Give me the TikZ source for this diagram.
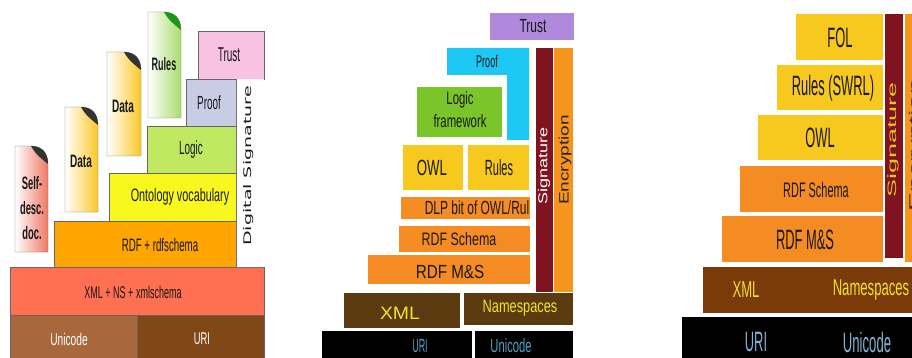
\documentclass[tikz,border=0pt]{standalone}
\usepackage{fontspec}
\setmainfont{Liberation Sans}
\newfontfamily\dvs{DejaVu Sans}
\definecolor{pAuni}{RGB}{168,104,60}
\definecolor{pAuri}{RGB}{128,72,22}
\definecolor{pAxml}{RGB}{255,112,82}
\definecolor{pArdf}{RGB}{255,165,0}
\definecolor{pAont}{RGB}{248,248,30}
\definecolor{pAlog}{RGB}{192,232,96}
\definecolor{pAprf}{RGB}{200,204,228}
\definecolor{pAtru}{RGB}{248,194,226}
\definecolor{pBtru}{RGB}{176,136,220}
\definecolor{pBprf}{RGB}{30,200,245}
\definecolor{pBlf}{RGB}{122,197,42}
\definecolor{gold}{RGB}{247,200,30}
\definecolor{orng}{RGB}{245,140,35}
\definecolor{pBbrn}{RGB}{92,58,16}
\definecolor{sigred}{RGB}{127,20,32}
\definecolor{encor}{RGB}{247,148,29}
\definecolor{ltblue}{RGB}{75,163,200}
\definecolor{pCbrn}{RGB}{122,58,10}
\definecolor{pCblue}{RGB}{130,180,215}
\definecolor{yeltxt}{RGB}{240,228,40}
\definecolor{sigtxt}{RGB}{232,192,32}
\definecolor{doctxt}{RGB}{25,25,25}
\definecolor{docred}{RGB}{240,120,100}
\definecolor{docyel}{RGB}{250,200,40}
\definecolor{docgrn}{RGB}{170,220,110}
\definecolor{curlgrn}{RGB}{30,150,30}
\newcommand\boxlbl[3]{\scalebox{#2}[1]{\fontsize{#1}{#1}\selectfont #3}}
\newcommand\bx[6]{\node[bxs,#6,minimum width={(#4-#2)*1pt},minimum height={(#5-#3)*1pt}] (#1) at (#2,-#3) {};}
\newcommand\docpage[6]{%
  \shadedraw[left color=white, middle color=white, right color=#5, draw=black!55, line width=0.4pt]
    (#1,-#2) -- (#1,-#4) -- (#3,-#4) -- (#3,-#2-18) .. controls (#3,-#2-6) and (#3-7,-#2) .. (#3-17,-#2) -- cycle;
  \fill[#6] (#3-17,-#2) .. controls (#3-7,-#2) and (#3,-#2-6) .. (#3,-#2-18)
    .. controls (#3-6,-#2-13) and (#3-12,-#2-9) .. (#3-17,-#2) -- cycle;}
\tikzset{
  bxs/.style={inner sep=0, outer sep=0, anchor=north west, draw=none},
  p1/.style={draw=black!60, line width=0.5pt},
  tl/.style={inner sep=0, outer sep=0, text=doctxt}
}
\begin{document}
\begin{tikzpicture}[x=1pt,y=1pt]
\useasboundingbox (0,0) rectangle (912,-358);
\clip (0,0) rectangle (912,-358);
\fill[white] (0,0) rectangle (912,-358);
% ---------------- panel 1 ----------------
\bx{aUni}{10.7}{315}{137}{358}{p1,fill=pAuni}
\bx{aUri}{137}{315}{264}{358}{p1,fill=pAuri}
\bx{aXml}{10.7}{267}{264}{315}{p1,fill=pAxml}
\bx{aRdf}{54}{221}{236}{267}{p1,fill=pArdf}
\bx{aOnt}{109}{173}{236}{221}{p1,fill=pAont}
\bx{aLog}{147}{126}{236}{173}{p1,fill=pAlog}
\bx{aPrf}{186}{79}{236}{126}{p1,fill=pAprf}
\bx{aTru}{198}{31}{264}{79}{p1,fill=pAtru}
\bx{aSig}{236}{79}{264}{267}{fill=white}
\draw[black!55, line width=0.6pt] (aSig.north west) -- (aSig.south west) -- (aSig.south east);
\docpage{15}{146}{48}{252}{docred}{black!80}
\docpage{65}{107}{98}{212}{docyel}{black!80}
\docpage{107}{52}{141}{156}{docyel}{black!80}
\docpage{148}{12}{181}{118}{docgrn}{curlgrn}
\node[tl,text=white] (tUni1) at (69,-339) {\boxlbl{17}{.6}{Unicode}};
\node[tl,text=white] (tUri1) at (202,-339) {\boxlbl{17}{.55}{URI}};
\node[tl] (tXml1) at (133,-292) {\boxlbl{17}{.53}{XML + NS + xmlschema}};
\node[tl] (tRdf1) at (160,-245) {\boxlbl{18}{.54}{RDF + rdfschema}};
\node[tl] (tOnt1) at (180,-197) {\boxlbl{18}{.6}{Ontology vocabulary}};
\node[tl] (tLog1) at (191,-150) {\boxlbl{19}{.52}{Logic}};
\node[tl] (tPrf1) at (209,-103) {\boxlbl{19}{.52}{Proof}};
\node[tl] (tTru1) at (229,-55) {\boxlbl{20}{.5}{Trust}};
\node[tl,rotate=90] (tSig1) at (249,-166) {\scalebox{1}[.55]{\dvs\fontsize{19}{19}\selectfont Digital Signature}};
\node[tl] (tRul1) at (164,-64) {\boxlbl{18}{.5}{\bfseries Rules}};
\node[tl] (tDat2) at (123,-106) {\boxlbl{18}{.56}{\bfseries Data}};
\node[tl] (tDat1) at (81,-161) {\boxlbl{18}{.56}{\bfseries Data}};
\node[tl,align=center,font=\fontsize{18}{25}\selectfont\bfseries] (tSelf) at (32,-208)
  {\scalebox{.52}[1]{Self-}\\\scalebox{.52}[1]{desc.}\\\scalebox{.52}[1]{doc.}};
% ---------------- panel 2 ----------------
\bx{bUri}{322}{331}{472}{358}{fill=black}
\bx{bUni}{475}{331}{573}{358}{fill=black}
\bx{bXml}{344}{293}{460}{328}{fill=pBbrn}
\bx{bNs}{464}{293}{573}{325}{fill=pBbrn}
\bx{bRms}{368}{255}{530}{284}{fill=orng}
\bx{bRsc}{399}{226}{530}{252}{fill=orng}
\bx{bDlp}{401}{197}{530}{219}{fill=orng}
\bx{bOwl}{403}{145}{463}{190}{fill=gold}
\bx{bRul}{468}{145}{529}{190}{fill=gold}
\bx{bLf}{417}{87}{502}{137}{fill=pBlf}
\fill[pBprf] (447,-48) -- (529,-48) -- (529,-140) -- (507,-140) -- (507,-75) -- (447,-75) -- cycle;
\bx{bTru}{490}{13}{574}{40}{fill=pBtru}
\bx{bSig}{536}{48}{553}{292}{fill=sigred}
\bx{bEnc}{554}{48}{573}{292}{fill=encor}
\node[tl] (tTru2) at (533,-26) {\boxlbl{19}{.63}{Trust}};
\node[tl] (tPrf2) at (487,-61) {\boxlbl{17}{.53}{Proof}};
\node[tl,align=center,font=\fontsize{18}{23}\selectfont] (tLf2) at (460,-110)
  {\scalebox{.63}[1]{Logic}\\\scalebox{.63}[1]{framework}};
\node[tl] (tOwl2) at (432,-168) {\boxlbl{22}{.6}{OWL}};
\node[tl] (tRul2) at (499,-168) {\boxlbl{22}{.5}{Rules}};
\node[tl] (tDlp2) at (477,-208) {\boxlbl{19}{.63}{DLP bit of OWL/Rul}};
\node[tl] (tRsc2) at (459,-239) {\boxlbl{18}{.69}{RDF Schema}};
\node[tl] (tRms2) at (450,-272) {\boxlbl{19}{.8}{RDF M\&S}};
\node[tl,text=yeltxt] (tXml2) at (400,-313) {\boxlbl{18}{1.08}{XML}};
\node[tl,text=yeltxt] (tNs2) at (520,-308) {\boxlbl{18}{.71}{Namespaces}};
\node[tl,text=ltblue] (tUri2) at (420,-346) {\boxlbl{19}{.47}{URI}};
\node[tl,text=ltblue] (tUni2) at (511,-346) {\boxlbl{19}{.59}{Unicode}};
\node[tl,rotate=90,text=white] (tSig2) at (544,-166) {\scalebox{1}[.72]{\fontsize{18}{18}\selectfont Signature}};
\node[tl,rotate=90,text=black!85] (tEnc2) at (565,-160) {\scalebox{1}[.72]{\fontsize{19}{19}\selectfont Encryption}};
% ---------------- panel 3 ----------------
\bx{cBlk}{682}{317}{916}{358}{fill=black}
\bx{cBrn}{703}{267}{916}{313}{fill=pCbrn}
\bx{cRms}{722}{216}{883}{262}{fill=orng}
\bx{cRsc}{740}{166}{883}{212}{fill=orng}
\bx{cOwl}{758}{115}{883}{160}{fill=gold}
\bx{cSwr}{777}{65}{883}{110}{fill=gold}
\bx{cFol}{796}{14}{883}{60}{fill=gold}
\bx{cSig}{885}{14}{903}{258}{fill=sigred}
\bx{cEnc}{905}{14}{916}{262}{fill=encor}
\node[tl] (tFol3) at (840,-38) {\boxlbl{28}{.46}{FOL}};
\node[tl] (tSwr3) at (833,-88) {\boxlbl{28}{.46}{Rules (SWRL)}};
\node[tl] (tOwl3) at (820,-138) {\boxlbl{28}{.46}{OWL}};
\node[tl] (tRsc3) at (816,-190) {\boxlbl{21}{.52}{RDF Schema}};
\node[tl] (tRms3) at (805,-240) {\boxlbl{28}{.46}{RDF M\&S}};
\node[tl,text=yeltxt] (tXml3) at (746,-290) {\boxlbl{23}{.57}{XML}};
\node[tl,text=yeltxt] (tNs3) at (871,-290) {\boxlbl{23}{.57}{Namespaces}};
\node[tl,text=pCblue] (tUri3) at (756,-342) {\boxlbl{28}{.46}{URI}};
\node[tl,text=pCblue] (tUni3) at (867,-342) {\boxlbl{28}{.47}{Unicode}};
\node[tl,rotate=90,text=sigtxt] (tSig3) at (893,-140) {\scalebox{1}[.45]{\fontsize{27}{27}\selectfont Signature}};
\node[tl,rotate=90,text=black!85] (tEnc3) at (915,-145) {\scalebox{1}[.45]{\fontsize{28}{28}\selectfont Encryption}};
\end{tikzpicture}
\end{document}
